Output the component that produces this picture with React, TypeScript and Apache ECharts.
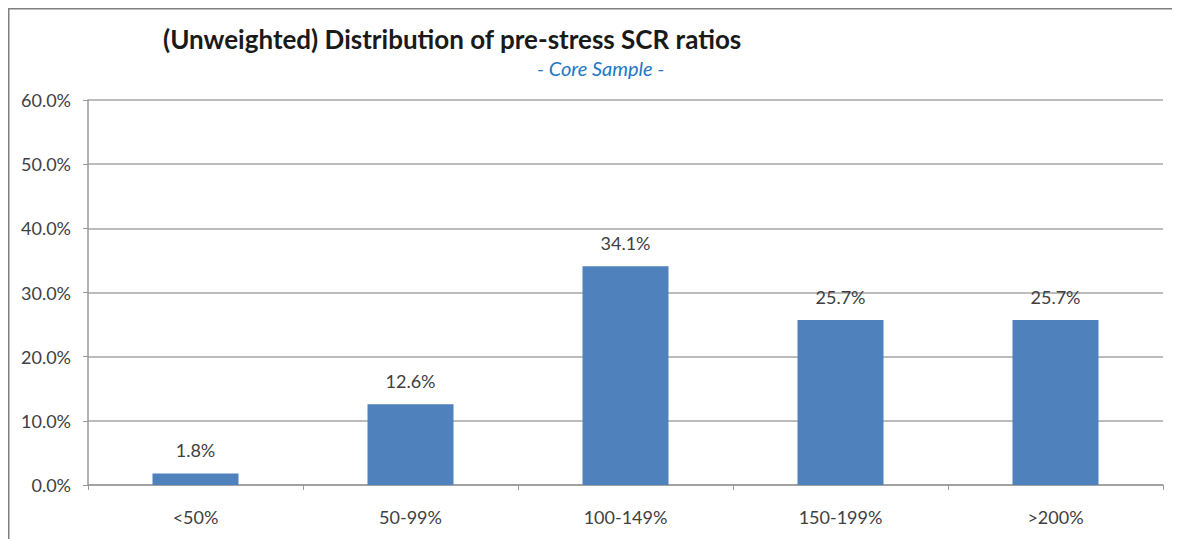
import React, { useEffect, useRef } from "react";
import * as echarts from "echarts";

const categories = ["<50%", "50-99%", "100-149%", "150-199%", ">200%"];
const values = [1.8, 12.6, 34.1, 25.7, 25.7];
const titleText = "(Unweighted) Distribution of pre-stress SCR ratios";
const subtitleText = "- Core Sample -";

const FONT = "Lato, 'Open Sans', sans-serif";

export default function App() {
  const ref = useRef<HTMLDivElement>(null);
  useEffect(() => {
    if (!ref.current) return;
    const chart = echarts.init(ref.current, null, { renderer: "svg" });
    chart.setOption({
      animation: false,
      backgroundColor: "#ffffff",
      graphic: [
        { type: "line", shape: { x1: 0, y1: 0.5, x2: 1172, y2: 0.5 }, style: { stroke: "#7f7f7f", lineWidth: 2 } },
        { type: "line", shape: { x1: 0.5, y1: 0, x2: 0.5, y2: 531 }, style: { stroke: "#7f7f7f", lineWidth: 2 } },
        {
          type: "text",
          left: 155,
          top: 18,
          style: { text: titleText, font: `bold 26px ${FONT}`, fill: "#1a1a1a" },
        },
        {
          type: "text",
          left: 529,
          top: 50,
          style: { text: subtitleText, font: `italic 20px ${FONT}`, fill: "#1f77c4" },
        },
      ],
      grid: { left: 80, top: 92, width: 1075, height: 385 },
      xAxis: {
        type: "category",
        data: categories,
        axisLine: { lineStyle: { color: "#999999", width: 1.5 } },
        axisTick: { show: true, alignWithLabel: false, length: 5, lineStyle: { color: "#999999" } },
        axisLabel: { color: "#404040", fontFamily: FONT, fontSize: 18, margin: 23 },
      },
      yAxis: {
        type: "value",
        min: 0,
        max: 60,
        interval: 10,
        axisLine: { show: true, lineStyle: { color: "#999999", width: 1.5 } },
        axisTick: { show: true, length: 5, lineStyle: { color: "#999999" } },
        splitLine: { lineStyle: { color: "#a6a6a6", width: 1.5 } },
        axisLabel: {
          color: "#404040",
          fontFamily: FONT,
          fontSize: 18,
          margin: 17,
          formatter: (v: number) => v.toFixed(1) + "%",
        },
      },
      series: [
        {
          type: "bar",
          data: values,
          barWidth: "40%",
          itemStyle: { color: "#4f81bd" },
          label: {
            show: true,
            position: "top",
            distance: 14,
            color: "#404040",
            fontFamily: FONT,
            fontSize: 18,
            formatter: (p: any) => Number(p.value).toFixed(1) + "%",
          },
        },
      ],
    });
    return () => chart.dispose();
  }, []);
  return <div ref={ref} style={{ width: 1172, height: 531 }} />;
}
